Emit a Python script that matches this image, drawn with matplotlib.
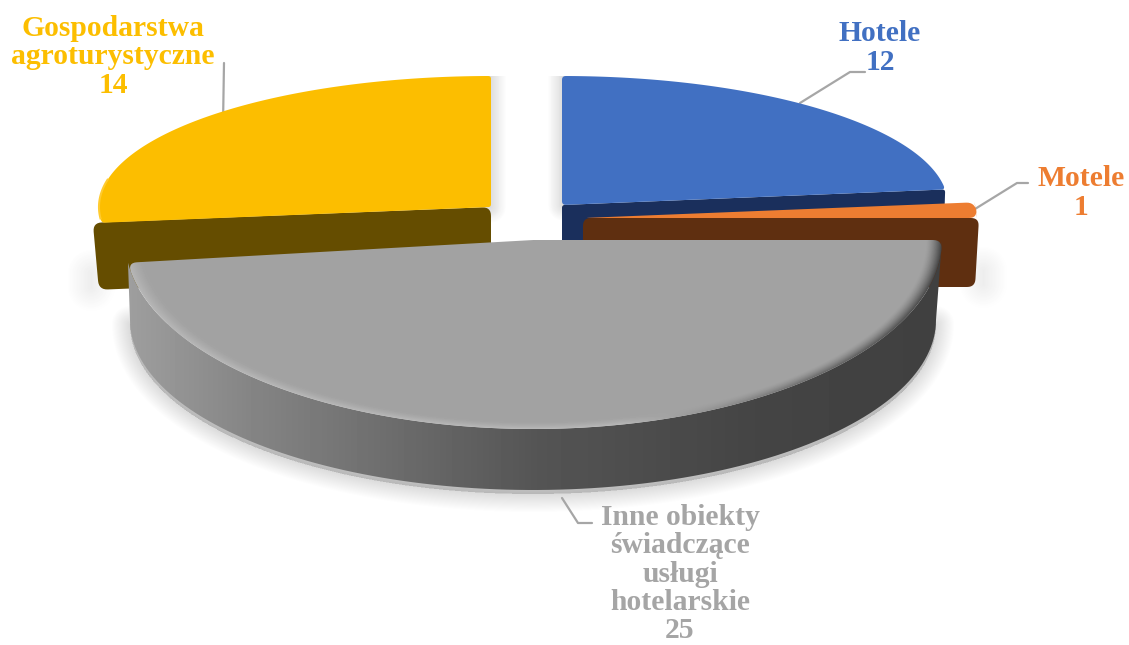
import numpy as np
import matplotlib
matplotlib.use("Agg")
import matplotlib.pyplot as plt
from matplotlib.patches import Polygon, Rectangle

categories = ["Hotele", "Motele", "Inne obiekty\nświadczące\nusługi\nhotelarskie", "Gospodarstwa\nagroturystyczne"]
values = [12, 1, 25, 14]
colors = ["#4170C2", "#ED7D31", "#A5A5A5", "#FCBE00"]
side_colors = ["#1A2F5C", "#5F2F10", "#808080", "#654D00"]

W, H = 1129, 645

# turn values into pie angles, clockwise from 12 o'clock
fracs = np.cumsum([0] + values) / sum(values)
angles = 90 - fracs * 360

fig = plt.figure(figsize=(W / 100, H / 100), dpi=100)
ax = fig.add_axes([0, 0, 1, 1])
ax.set_xlim(0, W)
ax.set_ylim(H, 0)
ax.axis("off")


def arc(cx, cy, rx, ry, a0, a1, n=120):
    t = np.radians(np.linspace(a0, a1, n))
    return np.column_stack([cx + rx * np.cos(t), cy - ry * np.sin(t)])


def roundPoly(pts, r):
    # chop sharp corners and replace them with a small bezier
    out = []
    n = len(pts)
    for i in range(n):
        p = pts[i]
        a = pts[i - 1] - p
        b = pts[(i + 1) % n] - p
        la, lb = np.hypot(*a), np.hypot(*b)
        cosang = np.dot(a, b) / (la * lb)
        if cosang < -0.9:
            out.append(p)
            continue
        # look further along the arc, neighbours there are very close
        k = 1
        while np.hypot(*(pts[(i + k) % n] - p)) < r and k < n // 2:
            k += 1
        j = 1
        while np.hypot(*(pts[i - j] - p)) < r and j < n // 2:
            j += 1
        s = p + (pts[i - j] - p) * min(1, r / np.hypot(*(pts[i - j] - p)))
        e = p + (pts[(i + k) % n] - p) * min(1, r / np.hypot(*(pts[(i + k) % n] - p)))
        for u in np.linspace(0, 1, 8):
            out.append((1 - u) ** 2 * s + 2 * u * (1 - u) * p + u ** 2 * e)
    return np.array(out)


def softShadow(pts, dx, dy, spread, strength, n=18, clip=None):
    for w in np.linspace(spread, 0.5, n):
        patch = Polygon(pts + [dx, dy], closed=True, facecolor="black", edgecolor="black",
                        lw=w, alpha=strength / n, joinstyle="round", capstyle="round", zorder=1)
        ax.add_patch(patch)
        if clip is not None:
            patch.set_clip_path(Rectangle((clip[0], clip[1]), clip[2], clip[3], transform=ax.transData))


def wedgeTop(cx, cy, rx, ry, a0, a1):
    return np.vstack([[cx, cy], arc(cx, cy, rx, ry, a0, a1)])


def sideFace(start, end, depth, lean):
    return np.array([start, end, end + [lean, depth], start + [0, depth]])


# where every slice sits on the page: centre x, centre y, radius x, radius y
hotelGeo = (562, 205, 386, 129)
motelGeo = (583, 218, 394, 130)
inneGeo = (533.5, 240, 408.5, 189)
gospGeo = (491, 207, 392, 131)

hotelTop = wedgeTop(*hotelGeo, angles[0], angles[1])
motelTop = wedgeTop(*motelGeo, angles[1], angles[2])
inneTop = wedgeTop(*inneGeo, angles[2], angles[3])
gospTop = wedgeTop(*gospGeo, angles[4] + 360, angles[3] + 360)

hotelSide = sideFace(np.array(hotelGeo[:2], float), hotelTop[-1], 60, -2)
motelSide = sideFace(np.array(motelGeo[:2], float), motelTop[-1] + [2, 0], 69, -4)
gospSide = sideFace(np.array(gospGeo[:2], float), gospTop[-1] + [-9, 0], 67, 6)

inneBottom = arc(533, 320, 403, 170, 0, -180)
inneWall = np.vstack([arc(*inneGeo, angles[2], angles[3]), inneBottom[::-1]])

# shadows first
softShadow(inneBottom, 0, 4, 26, 0.11)
softShadow(gospSide[[2]].repeat(2, axis=0) + [[0, 0], [0, -14]], -8, -3, 34, 0.10)
softShadow(motelSide[[2]].repeat(2, axis=0) + [[0, 0], [0, -14]], 8, -3, 34, 0.10)
# the gap between the back slices only gets shadow on its inner sides
gapClip = (470, 76, 110, 170)
softShadow(hotelTop[:2] + [0, 0], 1, 0, 22, 0.15, clip=gapClip)
softShadow(gospTop[:2] + [0, 0], -1, 0, 22, 0.15, clip=gapClip)

# back slices, side then top
ax.add_patch(Polygon(roundPoly(hotelSide, 3), closed=True, fc=side_colors[0], ec="none", zorder=2))
ax.add_patch(Polygon(roundPoly(hotelTop, 4), closed=True, fc=colors[0], ec="none", zorder=3))
ax.add_patch(Polygon(roundPoly(gospSide, 9), closed=True, fc=side_colors[3], ec="none", zorder=2))
ax.add_patch(Polygon(roundPoly(gospTop, 3), closed=True, fc=colors[3], ec="none", zorder=3))
ax.plot(*arc(*gospGeo, 168, 185).T, color="#FFCB30", lw=1.5, zorder=3.5)
ax.add_patch(Polygon(roundPoly(motelSide, 8), closed=True, fc=side_colors[1], ec="none", zorder=4))
ax.add_patch(Polygon(roundPoly(motelTop, 8), closed=True, fc=colors[1], ec="none", zorder=5))

# grey wall with light to dark shading
wallShade = np.interp(np.arange(W), [128, 250, 400, 540, 750, 940], [0.62, 0.52, 0.42, 0.33, 0.27, 0.25])
wallImg = np.tile(wallShade, (H, 1))
im = ax.imshow(wallImg, extent=(0, W, H, 0), cmap="gray", vmin=0, vmax=1, aspect="auto",
               interpolation="bilinear", zorder=6)
im.set_clip_path(Polygon(inneWall, closed=True, transform=ax.transData))

# grey top face, rim gets lighter on the left and darker on the right
xx, yy = np.meshgrid(np.arange(W) + 0.5, np.arange(H) + 0.5)
rr = np.hypot((xx - inneGeo[0]) / inneGeo[2], (yy - inneGeo[1]) / inneGeo[3])
rim = np.clip((rr - 0.96) / 0.04, 0, 1) ** 1.5
rimColor = np.interp(xx, [128, 620, 800, 940], [0.72, 0.72, 0.42, 0.26])
topImg = 0.635 * (1 - rim) + rimColor * rim
topPoly = roundPoly(inneTop, 9)
im2 = ax.imshow(topImg, extent=(0, W, H, 0), cmap="gray", vmin=0, vmax=1, aspect="auto",
                interpolation="bilinear", zorder=7)
im2.set_clip_path(Polygon(topPoly, closed=True, transform=ax.transData))
ax.set_xlim(0, W)
ax.set_ylim(H, 0)

# leader lines, below the slices so they stop at the edge
leaders = [
    ([800, 850, 865], [103, 72, 72]),
    ([975, 1017, 1028], [209, 183, 183]),
    ([562, 578, 592], [498, 523, 523]),
    ([224, 223], [63, 125]),
]
for lx, ly in leaders:
    ax.plot(lx, ly, color="#A6A6A6", lw=1.6, zorder=2.5, solid_capstyle="round")

# labels, the long one is a bit tighter so it stays on the page
labelPos = [(880, 48), (1081, 193), (680, 574), (113, 57)]
labelSpacing = [1.08, 1.08, 1.05, 1.08]
for cat, val, col, pos, sp in zip(categories, values, colors, labelPos, labelSpacing):
    ax.text(pos[0], pos[1], f"{cat}\n{val}", color=col, ha="center", va="center", ma="center",
            family="Liberation Serif", fontweight="bold", fontsize=21.3, linespacing=sp, zorder=9)

fig.savefig("out.png", dpi=100)
